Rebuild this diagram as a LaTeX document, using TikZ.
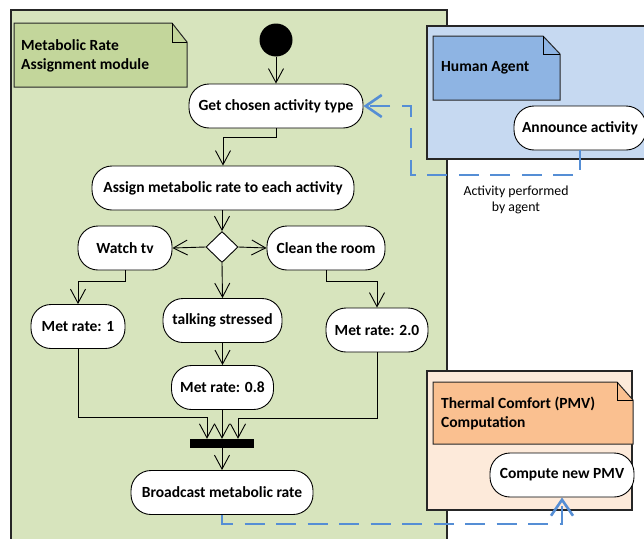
\documentclass[tikz,border=0pt]{standalone}
\usepackage{fontspec}
\setmainfont{Carlito}
\usetikzlibrary{arrows.meta,shapes.geometric,calc}
\definecolor{greenpanel}{HTML}{D7E4BD}
\definecolor{greennote}{HTML}{C3D69B}
\definecolor{bluepanel}{HTML}{C6D9F1}
\definecolor{bluenote}{HTML}{8EB4E3}
\definecolor{peachpanel}{HTML}{FDEADA}
\definecolor{peachnote}{HTML}{FAC090}
\definecolor{flowblue}{HTML}{558ED5}
\tikzset{
  act/.style={draw=black, fill=white, rounded corners=20pt, minimum height=44pt, inner sep=0pt,
    font=\bfseries\fontsize{15.5}{18}\selectfont, line width=0.9pt},
  flow/.style={draw=black, line width=0.9pt, -{Straight Barb[length=14pt,width=15pt]}},
  msg/.style={draw=flowblue, line width=2.6pt, dash pattern=on 20pt off 11.5pt,
    -{Straight Barb[length=16pt,width=22pt]}},
  panel/.style={draw=black!85, line width=1.2pt},
  notetext/.style={font=\bfseries\fontsize{15.5}{19}\selectfont, align=left, anchor=west, inner sep=0pt}
}
\begin{document}
\begin{tikzpicture}[x=1pt,y=-1pt]
\useasboundingbox (0,0) rectangle (644,538);
\clip (0,0) rectangle (644,538);
\fill[white] (0,0) rectangle (644,538);
% green panel
\fill[greenpanel] (11,10) rectangle (447,545);
\draw[panel] (11,545) -- (11,10) -- (447,10) -- (447,545);
% green note
\draw[panel, fill=greennote, line width=1pt] (14,23) -- (172,23) -- (187,42) -- (187,87) -- (14,87) -- cycle;
\draw[line width=1pt] (172,23) -- (172,42) -- (187,42);
\node[notetext] (mnote) at (21,56) {Metabolic Rate\\Assignment module};
% blue panel
\draw[panel, fill=bluepanel] (427,26) rectangle (660,159);
\draw[panel, fill=bluenote, line width=1pt] (433,36) -- (543,36) -- (560,54) -- (560,100) -- (433,100) -- cycle;
\draw[line width=1pt] (543,36) -- (543,54) -- (560,54);
\node[notetext] (hnote) at (441,68) {Human Agent};
% peach panel
\draw[panel, fill=peachpanel] (427,371) rectangle (632,510);
\draw[panel, fill=peachnote, line width=1pt] (433,382) -- (617,382) -- (633,400) -- (633,444) -- (433,444) -- cycle;
\draw[line width=1pt] (617,382) -- (617,400) -- (633,400);
\node[notetext] (tnote) at (441,413) {Thermal Comfort (PMV)\\Computation};
% nodes
\node[circle, fill=black, minimum size=33pt, inner sep=0pt] (start) at (276,40) {};
\node[act, minimum width=174pt] (get) at (276,106) {Get chosen activity type};
\node[act, minimum width=262pt] (assign) at (223,188) {Assign metabolic rate to each activity};
\node[diamond, draw=black, fill=white, line width=0.9pt, minimum width=32pt, minimum height=31pt, inner sep=0pt] (dec) at (222,247) {};
\node[act, minimum width=94pt] (watch) at (125,248) {Watch tv};
\node[act, minimum width=118pt] (clean) at (326,248) {Clean the room};
\node[act, minimum width=119pt] (talk) at (222.5,320.5) {talking stressed};
\node[act, minimum width=94pt] (met1) at (78,326.5) {Met rate: 1};
\node[act, minimum width=102pt] (met2) at (377,330) {Met rate: 2.0};
\node[act, minimum width=102pt] (met08) at (222.5,387.5) {Met rate: 0.8};
\node[fill=black, minimum width=64pt, minimum height=9pt, inner sep=0pt] (bar) at (222,443.5) {};
\node[act, minimum width=182pt] (broad) at (222,492.5) {Broadcast metabolic rate};
\node[act, minimum width=144pt] (pmv) at (562,475) {Compute new PMV};
\node[act, minimum width=132pt] (ann) at (580,128) {Announce activity};
\node[font=\fontsize{13.8}{15.5}\selectfont, align=center, inner sep=0pt] (lbl) at (516,200) {Activity performed\\by agent};
% connectors
\draw[flow] (start) -- (get);
\draw[flow] (get.south) -- ++(0,9) -| (assign.north);
\draw[flow] (assign.south -| dec.north) -- (dec.north);
\draw[flow] (dec.west) -- (watch.east);
\draw[flow] (dec.east) -- (clean.west);
\draw[flow] (dec.south) -- (talk.north);
\draw[flow] (watch.south) -- ++(0,11) -| (met1.north);
\draw[flow] (clean.south) -- ++(0,11) -| (met2.north);
\draw[flow] (talk.south) -- (met08.north);
\coordinate (j1) at (207,417);
\coordinate (j3) at (238,418);
\draw[flow] (met1.south) |- (j1) -- (j1 |- bar.north);
\draw[flow] (met2.south) |- (j3) -- (j3 |- bar.north);
\draw[flow] (met08.south -| bar.north) -- (bar.north);
\draw[flow] (bar.south) -- (broad.north);
\coordinate (b1) at (411,175);
\draw[msg] (ann.south) |- (b1) |- (get.east);
\draw[msg] (broad.south) -- ++(0,9) -| (pmv.south);
\end{tikzpicture}
\end{document}
